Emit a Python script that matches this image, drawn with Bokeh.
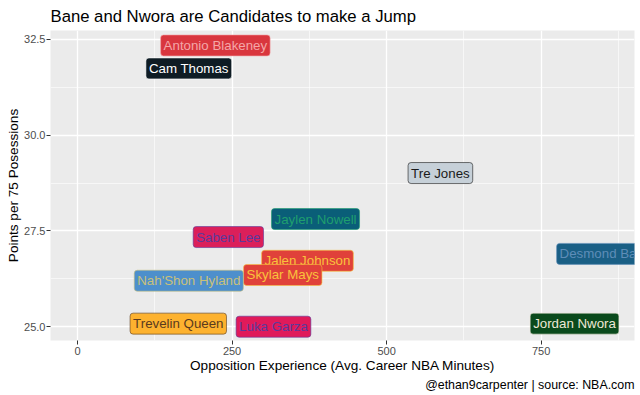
from bokeh.plotting import figure
from bokeh.models import ColumnDataSource, FixedTicker, Title, NumeralTickFormatter
from bokeh.core.properties import value
from bokeh.embed import file_html
from bokeh.resources import INLINE

players = ["Antonio Blakeney", "Cam Thomas", "Tre Jones", "Jaylen Nowell", "Saben Lee",
           "Jalen Johnson", "Skylar Mays", "Nah'Shon Hyland", "Desmond Bane",
           "Jordan Nwora", "Trevelin Queen", "Luka Garza"]
opp_minutes = [223, 180, 587, 385, 244, 372, 332, 180, 854, 804, 163, 317]
pts_per75 = [32.34, 31.74, 29.01, 27.81, 27.34, 26.72, 26.35, 26.20, 26.90, 25.08, 25.08, 25.00]

fill_colors = ["#D9363E", "#0E1C24", "#C6D0D8", "#0A5E78", "#DB1F5A", "#E0413A",
               "#E0413A", "#4D8FCC", "#1A5F85", "#0A4A1C", "#FDB22F", "#E01A5A"]
text_colors = ["#F4A6A8", "#FFFFFF", "#1A1A1A", "#1F9E6E", "#5B3A9C", "#F9C23C",
               "#F9C23C", "#C9C07A", "#5E8DB8", "#EEE8D6", "#5A3A1E", "#5B3A9C"]

x_ticks = [0, 250, 500, 750]
y_ticks = [25.0, 27.5, 30.0, 32.5]

src = ColumnDataSource(dict(name=players, x=opp_minutes, y=pts_per75,
                            fill=fill_colors, tc=text_colors))

FONT = "Liberation Sans"

p = figure(width=640, height=395, output_backend="svg", toolbar_location=None,
           x_range=(-43.7, 901), y_range=(24.64, 32.73),
           min_border_left=50, min_border_right=6, min_border_top=0, min_border_bottom=55)
p.background_fill_color = "#EBEBEB"
p.border_fill_color = "white"
p.outline_line_color = None

p.title.text = "Bane and Nwora are Candidates to make a Jump"
p.title.text_font = FONT
p.title.text_font_size = "16.7px"
p.title.text_font_style = "normal"
p.title.text_color = "black"
p.title.align = "left"
p.title.offset = 0
p.title.standoff = 9

cap = Title(text="@ethan9carpenter | source: NBA.com", align="right",
            text_font=FONT, text_font_size="12.4px", text_font_style="normal",
            text_color="black", standoff=0)
p.add_layout(cap, "below")

p.xaxis.ticker = FixedTicker(ticks=x_ticks, minor_ticks=[-125, 125, 375, 625, 875])
p.yaxis.ticker = FixedTicker(ticks=y_ticks, minor_ticks=[26.25, 28.75, 31.25])
p.yaxis.formatter = NumeralTickFormatter(format="0.0")

for ax in (p.xaxis[0], p.yaxis[0]):
    ax.axis_line_color = None
    ax.major_tick_line_color = "#333333"
    ax.major_tick_in = 0
    ax.major_tick_out = 4
    ax.minor_tick_line_color = None
    ax.major_label_text_font = FONT
    ax.major_label_text_font_size = "11px"
    ax.major_label_text_color = "#4D4D4D"
    ax.axis_label_text_font = FONT
    ax.axis_label_text_font_size = "13.6px"
    ax.axis_label_text_font_style = "normal"
    ax.axis_label_text_color = "black"

p.xaxis.axis_label = "Opposition Experience (Avg. Career NBA Minutes)"
p.yaxis.axis_label = "Points per 75 Posessions"
p.xaxis.major_label_standoff = 2
p.xaxis.axis_label_standoff = 0
p.yaxis.major_label_standoff = 1
p.yaxis.axis_label_standoff = 0

for g in (p.xgrid[0], p.ygrid[0]):
    g.grid_line_color = "white"
    g.grid_line_width = 1.3
    g.minor_grid_line_color = "white"
    g.minor_grid_line_width = 0.6

p.text(x="x", y="y", text="name", source=src,
       text_font=value(FONT), text_font_size="13.3px",
       text_color="tc", text_align="center", text_baseline="middle",
       background_fill_color="fill", border_line_color="tc",
       border_line_width=0.6, padding=3, border_radius=3)

open("out.html", "w").write(file_html(p, INLINE))
